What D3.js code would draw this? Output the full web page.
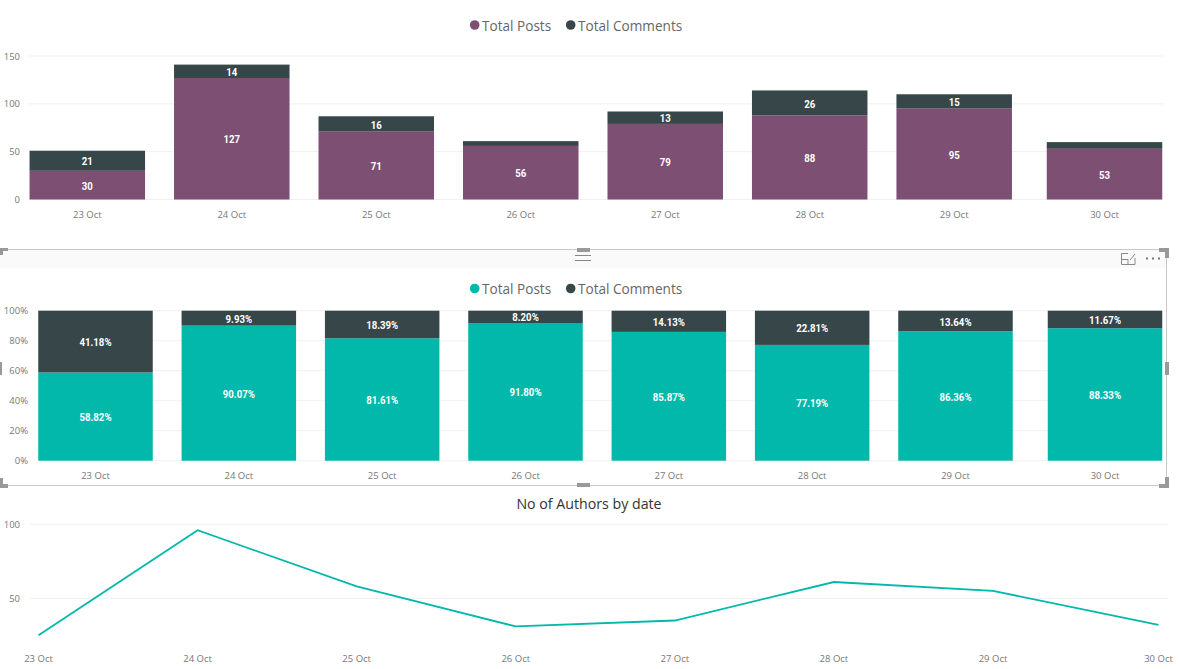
<!DOCTYPE html>
<html><head><meta charset="utf-8">
<script src="https://cdn.jsdelivr.net/npm/d3@7"></script>
<style>
html,body{margin:0;padding:0;background:#fff;overflow:hidden}
svg{display:block}
text{font-family:"Open Sans",sans-serif}
.tick{font-size:9.5px;fill:#777}
.lab{font-family:"Roboto",sans-serif;font-size:10.5px;font-weight:700;fill:#fff;text-anchor:middle;dominant-baseline:central}
.leg{font-size:13.6px;fill:#666;dominant-baseline:central}
.grid{stroke:#f0f0f0;stroke-width:1}
</style></head><body>
<svg id="c" width="1179" height="669"></svg>
<script>
const dates=["23 Oct","24 Oct","25 Oct","26 Oct","27 Oct","28 Oct","29 Oct","30 Oct"];
const posts=[30,127,71,56,79,88,95,53];
const comments=[21,14,16,5,13,26,15,7];
const postPct=[58.82,90.07,81.61,91.80,85.87,77.19,86.36,88.33];
const commentPct=[41.18,9.93,18.39,8.20,14.13,22.81,13.64,11.67];
const authors=[25,96,58,31,35,61,55,32];
const countTicks=[0,50,100,150];
const pctTicks=[0,20,40,60,80,100];
const authorTicks=[50,100];
const seriesNames=["Total Posts","Total Comments"];
const PURPLE="#7d4f73",DARK="#374649",TEAL="#01b8aa";
const svg=d3.select("#c");

function legend(cy,color){
  const g=svg.append("g");
  const items=[[474.7,seriesNames[0],color],[570.7,seriesNames[1],DARK]];
  items.forEach(([x,t,c])=>{
    g.append("circle").attr("cx",x).attr("cy",cy).attr("r",4.8).attr("fill",c);
    g.append("text").attr("class","leg").attr("x",x+7.3).attr("y",cy).text(t);
  });
}
function grid(y,ticks,x0,x1,fmt,labelX){
  ticks.forEach(t=>{
    svg.append("line").attr("class","grid").attr("x1",x0).attr("x2",x1).attr("y1",y(t)).attr("y2",y(t));
    svg.append("text").attr("class","tick").attr("x",labelX).attr("y",y(t)).attr("text-anchor","end")
      .attr("dominant-baseline","central").text(fmt(t));
  });
}
function bars(cx,w,y,base,top,color,labels,show){
  dates.forEach((d,i)=>{
    svg.append("rect").attr("x",cx(i)-w/2).attr("width",w)
      .attr("y",y(top[i])).attr("height",y(base[i])-y(top[i])).attr("fill",color);
    if(show(i)) svg.append("text").attr("class","lab")
      .attr("transform",`translate(${cx(i)},${(y(top[i])+y(base[i]))/2+1}) scale(0.92,1)`).text(labels[i]);
  });
}
function xlabels(cx,yy){
  dates.forEach((d,i)=>svg.append("text").attr("class","tick").attr("x",cx(i)).attr("y",yy)
    .attr("text-anchor","middle").attr("dominant-baseline","central").text(d));
}

// Chart 1
{
  const y=d3.scaleLinear().domain([0,150]).range([199.5,56]);
  const cx=d3.scaleLinear().domain([0,6,7]).range([87.3,954.2,1104.5]);
  legend(25,PURPLE);
  grid(y,countTicks,29,1163,d=>d,20);
  bars(cx,115.5,y,posts.map(()=>0),posts,PURPLE,posts,()=>true);
  bars(cx,115.5,y,posts,posts.map((p,i)=>p+comments[i]),DARK,comments,i=>comments[i]>=10);
  xlabels(cx,214.5);
}

// Focus frame of the middle visual
{
  svg.append("rect").attr("x",0).attr("y",250).attr("width",1167).attr("height",18).attr("fill","#fafafa");
  svg.append("path").attr("d","M0 249.5H1166.5V485.5H0").attr("fill","none").attr("stroke","#c8c8c8");
  const h=svg.append("g").attr("fill","#999");
  h.append("rect").attr("x",577).attr("y",248).attr("width",13).attr("height",4);
  h.append("rect").attr("x",577).attr("y",483).attr("width",13).attr("height",4);
  h.append("rect").attr("x",1165).attr("y",362).attr("width",4).attr("height",13);
  h.append("rect").attr("x",0).attr("y",362).attr("width",2).attr("height",13);
  h.append("path").attr("d","M0 248H8V251H3V255H0Z");
  h.append("path").attr("d","M1159 248H1169V258H1165V252H1159Z");
  h.append("path").attr("d","M0 478H3V484H8V488H0Z");
  h.append("path").attr("d","M1169 477V488H1159V484H1165V477Z");
  svg.append("path").attr("d","M575 255.5H591M575 260.5H591").attr("stroke","#888").attr("fill","none");
  const ic=svg.append("g").attr("fill","none").attr("stroke","#888");
  ic.append("path").attr("d","M1128 253.5H1121.5V264.5H1135V258M1121.5 259.5H1128V264.5M1130 260L1135 254");
  ic.append("path").attr("d","M1146 258.5h2M1152 258.5h2M1158 258.5h2").attr("stroke-width",2).attr("stroke","#777");
}

// Chart 2
{
  const y=d3.scaleLinear().domain([0,100]).range([460.7,310.7]);
  const cx=d3.scaleLinear().domain([0,6,7]).range([95.5,955.5,1105]);
  legend(288.5,TEAL);
  grid(y,pctTicks,38,1162,d=>d+"%",28);
  const fmt=d=>d.toFixed(2)+"%";
  bars(cx,114.5,y,postPct.map(()=>0),postPct,TEAL,postPct.map(fmt),()=>true);
  bars(cx,114.5,y,postPct,postPct.map(()=>100),DARK,commentPct.map(fmt),()=>true);
  xlabels(cx,475.5);
}

// Chart 3
{
  const y=d3.scaleLinear().domain([50,100]).range([598.3,524.3]);
  const cx=d3.scaleLinear().domain([0,6,7]).range([38.5,993,1158.5]);
  svg.append("text").attr("x",589).attr("y",503.5).attr("text-anchor","middle")
    .attr("dominant-baseline","central").style("font-size","14.2px").attr("fill","#333").text("No of Authors by date");
  grid(y,authorTicks,30,1168,d=>d,20);
  svg.append("path").datum(authors)
    .attr("d",d3.line().x((d,i)=>cx(i)).y(d=>y(d)))
    .attr("fill","none").attr("stroke",TEAL).attr("stroke-width",1.8);
  xlabels(cx,658.5);
}
</script></body></html>
